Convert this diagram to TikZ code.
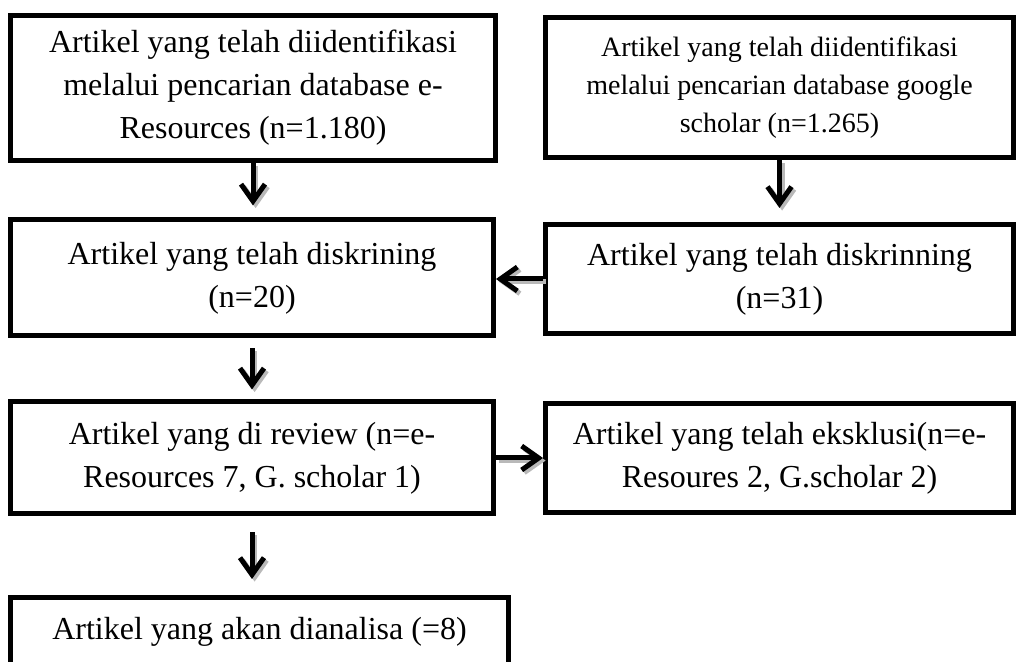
\documentclass[tikz,border=0pt]{standalone}
\usepackage{fontspec}
\setmainfont{Liberation Serif}
\usetikzlibrary{arrows.meta}
\newcommand{\flowline}[3][]{%
  \draw[flow,gray!55,transform canvas={shift={(1.3pt,-1.3pt)}},#1] #2 -- #3;
  \draw[flow,#1] #2 -- #3;}
\begin{document}
\begin{tikzpicture}[x=0.5pt,y=-0.5pt,
    box/.style={draw,line width=2.5pt,align=center,inner sep=0pt,
      font=\fontsize{16}{21.5}\selectfont},
    flow/.style={line width=2.5pt,-{Straight Barb[length=8.5pt,width=12pt]}}]
  \clip (0,0) rectangle (1018,662);
  % left column
  \node[box,minimum width=242.5pt,minimum height=72.5pt] (ident) at (253,88)
    {Artikel yang telah diidentifikasi\\melalui pencarian database e-\\Resources (n=1.180)};
  \node[box,minimum width=241.5pt,minimum height=58pt] (skrin) at (252,278)
    {Artikel yang telah diskrining\\(n=20)};
  \node[box,minimum width=241.5pt,minimum height=56pt] (review) at (252,458)
    {Artikel yang di review (n=e-\\Resources 7, G. scholar 1)};
  \node[box,minimum width=249pt,minimum height=34.5pt] (analisa) at (259.5,632)
    {Artikel yang akan dianalisa (=8)};
  % right column
  \node[box,minimum width=234pt,minimum height=70pt,
    font=\fontsize{14}{19}\selectfont] (scholar) at (779.5,88)
    {Artikel yang telah diidentifikasi\\melalui pencarian database google\\scholar (n=1.265)};
  \node[box,minimum width=234pt,minimum height=54.5pt] (skrinG) at (779.5,279)
    {Artikel yang telah diskrinning\\(n=31)};
  \node[box,minimum width=234pt,minimum height=54.5pt] (eksklusi) at (779.5,458)
    {Artikel yang telah eksklusi(n=e-\\Resoures 2, G.scholar 2)};
  % arrows
  \flowline[shorten >=6pt]{(ident.south)}{(ident.south |- skrin.north)}
  \flowline[shorten >=7pt]{(scholar.south)}{(scholar.south |- skrinG.north)}
  \flowline{(skrinG.west)}{(skrinG.west -| skrin.east)}
  \flowline[shorten <=5pt,shorten >=5pt]{(skrin.south)}{(skrin.south |- review.north)}
  \flowline{(review.east)}{(review.east -| eksklusi.west)}
  \flowline[shorten <=8pt,shorten >=8pt]{(review.south)}{(review.south |- analisa.north)}
\end{tikzpicture}
\end{document}
